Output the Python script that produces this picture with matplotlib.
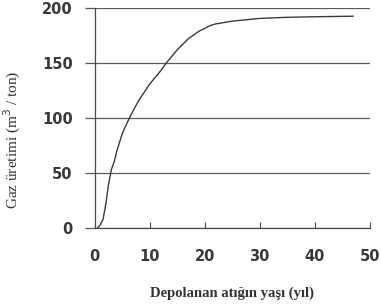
import matplotlib.pyplot as plt

# atığın yaşı (yıl) ve gaz üretimi (m3/ton)
yas = [0.5, 1.0, 1.5, 2.0, 2.5, 3.0, 3.5, 4.0, 5.0, 6.0, 7.0, 8.0, 10.0,
       12.0, 13.0, 15.0, 17.0, 19.0, 21.0, 22.0, 25.0, 30.0, 35.0, 40.0, 47.0]
gaz = [0, 3, 8, 22, 40, 53, 60, 70, 86, 97, 107, 116, 131,
       143, 150, 162, 172, 179, 184, 185.5, 188, 190.5, 191.5, 192, 192.5]

x_ticks = [0, 10, 20, 30, 40, 50]
y_ticks = [0, 50, 100, 150, 200]

fig = plt.figure(figsize=(3.81, 3.06), dpi=100)
ax = fig.add_axes([0.249, 0.255, 0.721, 0.719])

renk = '#4a4a4a'
for y in y_ticks:
    ax.axhline(y, color='#5a5a5a', lw=0.9, zorder=1)

ax.plot(yas, gaz, color='#3a3a3a', lw=1.0, zorder=3)

ax.set_xlim(0, 50)
ax.set_ylim(0, 200)
ax.set_xticks(x_ticks)
ax.set_yticks(y_ticks)

for s in ['top', 'right']:
    ax.spines[s].set_visible(False)
ax.spines['left'].set_color(renk)
ax.spines['bottom'].set_color(renk)
ax.spines['left'].set_linewidth(0.9)
ax.spines['bottom'].set_linewidth(0.9)

ax.tick_params(axis='x', direction='in', length=4, pad=15, color=renk,
               labelsize=10.5, labelcolor='#383838')
ax.tick_params(axis='y', direction='out', length=7, width=0.9, pad=9,
               color='#5a5a5a', labelsize=10.5, labelcolor='#383838')
for lab in ax.get_xticklabels() + ax.get_yticklabels():
    lab.set_fontweight('bold')
    lab.set_family('DejaVu Sans')

ax.set_xlabel('Depolanan atığın yaşı (yıl)', family='Liberation Serif',
              fontweight='bold', fontsize=10.5, color='#333333')
ax.xaxis.set_label_coords(0.5, -0.265)
ax.set_ylabel('Gaz üretimi (m$^3$ / ton)', family='Liberation Serif',
              fontsize=11, color='#333333')
ax.yaxis.set_label_coords(-0.26, 0.40)

fig.savefig('out.png', dpi=100)
